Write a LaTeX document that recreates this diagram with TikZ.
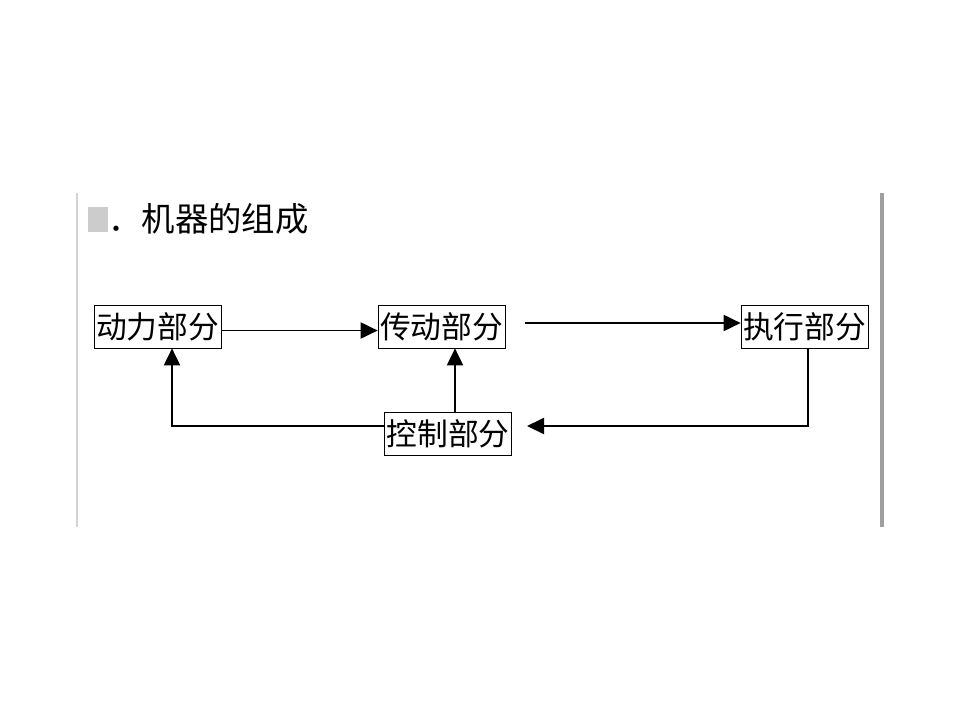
\documentclass[tikz,border=0pt]{standalone}
\usepackage{fontspec}
\newfontfamily\cjk{Noto Sans CJK SC}
\usetikzlibrary{calc,arrows.meta}

\begin{document}
\begin{tikzpicture}[x=0.02cm,y=-0.02cm,
    part/.style={draw,inner sep=0pt,minimum width=2.54cm,minimum height=0.86cm,
      font=\cjk\fontsize{17.5pt}{17.5pt}\selectfont},
    flow/.style={-{Triangle[length=0.34cm,width=0.32cm]},line width=1.1pt}]
  \useasboundingbox (0,0) rectangle (960,720);

  %% Page edges and title
  \draw[gray!35,line width=0.8pt] (77,193) -- (77,527);
  \draw[gray!75,line width=1.8pt] (882,193) -- (882,527);
  \fill[gray!40] (88,207) rectangle (108,232);
  \node[anchor=west,inner sep=0pt,font=\cjk\fontsize{19pt}{19pt}\selectfont] (TITLE) at (108,219) {．机器的组成};

  %% The four parts
  \node[part] (POWER) at (157.5,326.5) {动力部分};
  \node[part] (TRANS) at (441.5,326.5) {传动部分};
  \node[part] (EXEC)  at (804.5,326.5) {执行部分};
  \node[part] (CTRL)  at (448,434)     {控制部分};

  %% Free ends of the arrows
  \coordinate (TS) at (525,323);
  \coordinate (CE) at (527,426);

  %% Arrows between the parts
  \draw[flow] ($(POWER.east)+(0,4)$) -- ($(TRANS.west)+(0,4)$);
  \draw[flow] (TS) -- (TS-|EXEC.west);
  \draw[flow] ($(EXEC.south)+(3.5,0)$) |- (CE);
  \draw[flow] ($(CTRL.north)+(7,0)$) -- ($(TRANS.south)+(13.5,0)$);
  \draw[flow] (CTRL.west|-CE) -| ($(POWER.south)+(14.5,0)$);

\end{tikzpicture}
\end{document}
